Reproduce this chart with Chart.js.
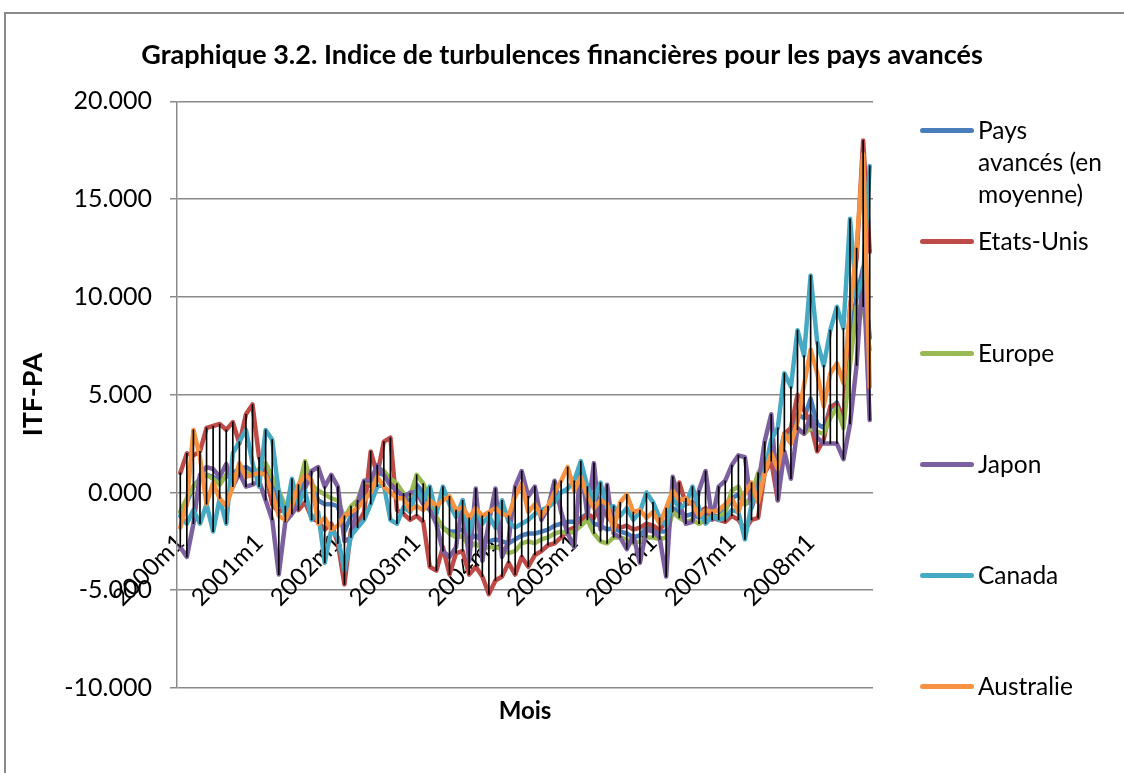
<!DOCTYPE html>
<html><head><meta charset="utf-8">
<script src="https://cdn.jsdelivr.net/npm/chart.js@4.4.0/dist/chart.umd.min.js"></script>
<style>
html,body{margin:0;padding:0;background:#fff;overflow:hidden;}
#wrap{position:relative;width:1124px;height:773px;overflow:hidden;}
#frame{position:absolute;left:4px;top:12px;width:1300px;height:900px;border:2px solid #8a8a8a;box-sizing:border-box;}
#c{position:absolute;left:0;top:0;}
.item{position:absolute;left:978px;font-family:Lato,sans-serif;font-size:24.5px;line-height:32px;color:#000;white-space:nowrap;}
.mk{position:absolute;left:920px;width:54px;height:5px;border-radius:3px;}
</style></head>
<body><div id="wrap"><div id="frame"></div><canvas id="c" width="1124" height="773"></canvas><div id="legend"></div></div>
<script>
const TITLE = 'Graphique 3.2. Indice de turbulences financières pour les pays avancés';
const seriesNames = ['Pays avancés (en moyenne)', 'Etats-Unis', 'Europe', 'Japon', 'Canada', 'Australie'];
const legendLines = [['Pays', 'avancés (en', 'moyenne)'], ['Etats-Unis'], ['Europe'], ['Japon'], ['Canada'], ['Australie']];
const colors = ['#4A7EBB', '#BE4B48', '#98B954', '#7D60A0', '#46AAC5', '#F69240'];
const yTicks = [-10, -5, 0, 5, 10, 15, 20];

const AVG = [
 -1.0, -0.5, 0.3, 0.7, 0.9, 0.8, 0.6, 0.8, 1.0, 1.2, 1.3, 1.1,
 1.0, 1.2, 0.5, -0.5, -1.0, -0.5, -0.3, 0.6, 0.5, -0.4, -0.6, -0.6,
 -0.7, -2.0, -1.2, -0.8, 0.2, 0.4, 1.0, 0.9, 0.6, 0.2, -0.3, -0.4,
 0.4, 0.0, -0.7, -1.4, -1.8, -2.0, -2.0, -1.9, -2.4, -2.2, -2.5, -2.5,
 -2.4, -2.5, -2.6, -2.4, -2.2, -2.1, -2.1, -2.0, -1.9, -1.7, -1.6, -1.5,
 -1.5, -1.3, -1.1, -1.6, -1.7, -1.9, -1.8, -2.0, -2.1, -2.3, -2.2, -1.8,
 -1.9, -2.0, -2.0, -0.8, -1.0, -1.2, -1.1, -1.3, -1.1, -1.2, -1.2, -0.9,
 -0.3, -0.1, -0.6, -0.4, 0.3, 1.2, 2.2, 1.5, 3.0, 3.0, 4.0, 3.8,
 4.8, 3.5, 3.3, 4.3, 4.6, 3.7, 8.0, 10.0, 11.5, 7.9
];
const US = [
 1.0, 2.0, 1.9, 2.1, 3.3, 3.4, 3.5, 3.2, 3.6, 2.5, 4.0, 4.5,
 1.8, 1.0, -0.6, -1.0, -0.8, -0.3, -0.9, -0.5, -1.3, -1.5, -1.9, -1.6,
 -2.6, -4.7, -1.9, -1.6, -1.0, 2.1, 0.9, 2.6, 2.8, -0.9, -1.1, -1.4,
 -1.2, -1.5, -3.8, -4.0, -2.8, -4.2, -3.1, -3.0, -4.2, -3.8, -4.3, -5.2,
 -4.5, -4.3, -3.6, -4.2, -3.3, -3.8, -3.2, -3.0, -2.7, -2.6, -2.3, -1.95,
 -1.8, -1.5, -1.1, -1.3, -0.5, -1.2, -1.6, -1.8, -1.7, -1.9, -1.8, -1.6,
 -1.7, -1.9, -1.5, -0.3, 0.5, -0.6, -0.5, -1.0, -0.8, -1.3, -1.4, -1.5,
 -1.2, -1.4, -1.9, -1.4, -1.3, 1.0, 1.6, -0.4, 3.0, 3.3, 5.0, 4.2,
 3.5, 2.1, 2.7, 4.4, 4.5, 3.7, 9.5, 12.0, 18.0, 12.3
];
const EU = [
 -1.0, -0.3, 0.3, 0.6, 0.9, 0.7, 0.4, 0.9, 0.9, 0.8, 1.0, 0.9,
 1.2, 1.5, 0.8, 0.1, -0.7, -0.4, 0.2, 1.6, 0.4, 0.1, -0.1, -0.3,
 -0.4, -1.3, -0.7, -0.4, 0.6, 0.5, 1.3, 1.1, 0.7, 0.45, -0.05, -0.2,
 0.9, 0.45, -0.4, -1.25, -1.8, -2.1, -2.3, -2.2, -2.8, -2.6, -2.9, -2.8,
 -2.8, -2.9, -3.1, -3.0, -2.6, -2.5, -2.6, -2.4, -2.3, -2.1, -2.0, -2.1,
 -2.0, -1.7, -1.4, -2.1, -2.5, -2.6, -2.3, -2.3, -2.4, -2.6, -2.5, -2.3,
 -2.3, -2.4, -2.3, -1.0, -1.3, -1.5, -1.4, -1.6, -1.4, -1.2, -1.3, -1.0,
 0.1, 0.3, -0.6, -0.2, 1.0, 1.5, 2.0, 1.8, 2.8, 2.9, 3.2, 3.0,
 3.3, 3.1, 3.0, 3.8, 4.35, 3.3, 6.5, 9.5, 9.5, 7.3
];
const JP = [
 -2.8, -3.3, -1.6, 0.9, 1.3, 1.2, 0.8, 1.45, 0.3, 1.0, 0.3, 0.4,
 0.6, -0.4, -1.4, -4.2, -1.5, -1.1, -0.6, 0.2, 1.1, 1.3, 0.3, 0.9,
 0.3, -2.5, -2.3, -0.6, 0.6, 0.6, 1.4, 0.9, 0.35, 0.1, -0.25, 0.0,
 0.0, -0.6, -0.9, -1.6, -3.0, -3.3, -2.8, -0.4, -3.5, 0.2, -3.5, -1.5,
 0.2, -3.3, -2.5, 0.3, 1.1, -0.2, 0.3, -1.4, -0.8, 0.6, -1.0, -2.1,
 -2.8, 1.5, -1.2, 1.5, -1.9, 0.4, -2.1, -2.3, -2.9, -2.2, -3.6, -1.9,
 -2.0, -2.3, -4.3, 0.8, -0.5, -1.6, -1.5, 0.1, 1.1, -1.4, 0.3, 0.6,
 1.4, 1.9, 1.8, -0.8, 0.3, 2.6, 4.0, -0.4, 2.1, 0.7, 3.3, 3.0,
 3.9, 2.8, 2.5, 2.5, 2.5, 1.7, 3.5, 6.5, 11.5, 3.7
];
const CA = [
 -1.2, -1.6, -0.9, -1.6, -0.6, -2.0, -0.3, -1.6, 2.0, 2.6, 3.2, 1.5,
 0.3, 3.2, 2.7, 0.0, -1.2, 0.7, -0.6, 0.1, -1.4, -1.0, -3.6, -1.9,
 -2.3, -4.0, -2.2, -1.8, -1.4, -0.6, 0.3, 0.4, -1.4, -1.6, -0.75, -1.0,
 0.1, -0.4, 0.3, -1.1, 0.3, -0.6, -1.25, -0.4, -2.1, -0.8, -1.6, -1.2,
 -1.8, -0.4, -1.5, -1.8, -1.6, -1.4, -1.1, -0.9, -0.75, -0.5, 0.0, 0.2,
 0.6, 1.6, 0.3, -0.4, 0.5, -0.8, -0.7, -1.2, -0.8, -1.4, -1.0, 0.0,
 -0.5, -1.3, -1.7, -0.3, -0.8, -0.6, 0.3, -0.8, -1.6, -1.2, -1.4, -1.3,
 -0.9, -1.0, -2.4, -0.6, 0.2, 1.1, 2.7, 3.3, 6.1, 5.4, 8.3, 7.0,
 11.1, 7.7, 6.5, 8.3, 9.5, 8.4, 14.0, 10.0, 11.0, 16.7
];
const AU = [
 -1.8, -0.6, 3.2, 1.8, -0.6, 0.5, -0.3, -0.7, 0.3, 1.5, 0.8, 0.9,
 1.0, 0.9, 0.0, -1.2, -1.4, -0.7, 0.4, 0.9, 0.6, -1.6, -1.3, -1.9,
 -1.7, -1.2, -1.0, -0.8, -0.4, 0.0, 0.8, 0.3, 0.0, -0.3, -0.3, -0.9,
 -0.7, -0.9, -0.4, -0.7, -0.4, -0.2, -0.9, -0.75, -1.3, -0.8, -1.2, -1.0,
 -0.8, -1.1, -1.2, -0.2, 0.45, -1.0, -0.6, -1.2, -0.7, 0.0, 0.6, 1.3,
 0.1, 0.8, -0.2, -0.8, -0.4, -0.6, -1.9, -0.5, -0.1, -1.0, -0.9, -1.3,
 -1.0, -1.6, -0.8, 0.1, -0.4, -0.3, -0.6, -1.2, -0.9, -1.0, -0.9, -0.6,
 -0.3, -1.0, 0.0, 0.5, -0.5, 1.0, 2.0, 1.2, 3.0, 2.5, 3.6, 5.5,
 7.3, 6.1, 4.4, 6.1, 6.6, 5.6, 9.3, 12.5, 17.3, 5.4
];
const seriesValues = [AVG, US, EU, JP, CA, AU];

// categories: monthly from 2000m1
const months = [];
for (let k = 0; k < US.length; k++) {
  months.push((2000 + Math.floor(k / 12)) + 'm' + (k % 12 + 1));
}

// high-low lines (min..max across series per month)
const hiLo = months.map((_, i) => {
  const v = seriesValues.map(s => s[i]);
  return [Math.min(...v), Math.max(...v)];
});

const FONT = 'Lato';
const GRID = '#8a8a8a';

const datasets = [{
  type: 'bar', label: 'hl', data: hiLo, backgroundColor: '#000', borderWidth: 0,
  barThickness: 1, order: -1, xAxisID: 'x', yAxisID: 'y'
}];
seriesValues.forEach((vals, k) => {
  datasets.push({
    type: 'line', label: seriesNames[k], data: vals, borderColor: colors[k], backgroundColor: colors[k],
    borderWidth: 4.5, pointRadius: 0, tension: 0, order: 5 - k,
    borderJoinStyle: 'round', borderCapStyle: 'round', xAxisID: 'x', yAxisID: 'y'
  });
});

new Chart(document.getElementById('c'), {
  data: { labels: months, datasets },
  options: {
    responsive: false, animation: false, events: [],
    layout: { padding: 0 },
    plugins: {
      legend: { display: false }, tooltip: { enabled: false },
      title: { display: true, text: TITLE, color: '#000',
        font: { family: FONT, size: 27, weight: 'bold' }, padding: { top: 39, bottom: 30 } }
    },
    scales: {
      x: { type: 'category', offset: true, grid: { display: false }, border: { display: false },
        ticks: { display: false },
        title: { display: true, text: 'Mois', color: '#000', font: { family: FONT, size: 24, weight: 'bold' }, padding: { top: 0, bottom: 47 } },
        afterFit: s => { s.height = 85; } },
      xl: { type: 'category', axis: 'x', position: { y: 0 }, offset: true,
        grid: { display: false, drawTicks: false }, border: { display: false },
        ticks: { autoSkip: false, minRotation: 45, maxRotation: 45, padding: 36, color: '#000',
          font: { family: FONT, size: 24 },
          callback: function (v) { const l = this.getLabelForValue(v); return /m1$/.test(l) ? l : ''; } },
        afterFit: s => { s.height = 0; } },
      y: { type: 'linear', position: 'left', min: yTicks[0], max: yTicks[yTicks.length - 1],
        afterBuildTicks: s => { s.ticks = yTicks.map(v => ({ value: v })); },
        ticks: { callback: v => v.toFixed(3), color: '#000', font: { family: FONT, size: 25 }, padding: 18 },
        grid: { color: GRID, lineWidth: 1.5, tickLength: 7 },
        border: { color: GRID, width: 1.5 },
        title: { display: true, text: 'ITF-PA', color: '#000', font: { family: FONT, size: 27, weight: 'bold' }, padding: { top: 17, bottom: 0 } },
        afterFit: s => { s.width = 177; } },
      yr: { type: 'linear', position: 'right', display: true, grid: { display: false }, border: { display: false },
        ticks: { display: false }, afterFit: s => { s.width = 251; } }
    }
  }
});

// legend (HTML)
const legendY = [130, 241, 353, 464, 575, 686];
const lg = document.getElementById('legend');
seriesNames.forEach((name, k) => {
  const mk = document.createElement('div');
  mk.className = 'mk';
  mk.style.top = (legendY[k] - 2.5) + 'px';
  mk.style.background = colors[k];
  lg.appendChild(mk);
  const it = document.createElement('div');
  it.className = 'item';
  it.style.top = (legendY[k] - 16) + 'px';
  it.innerHTML = legendLines[k].join('<br>');
  lg.appendChild(it);
});
</script>
</body></html>
